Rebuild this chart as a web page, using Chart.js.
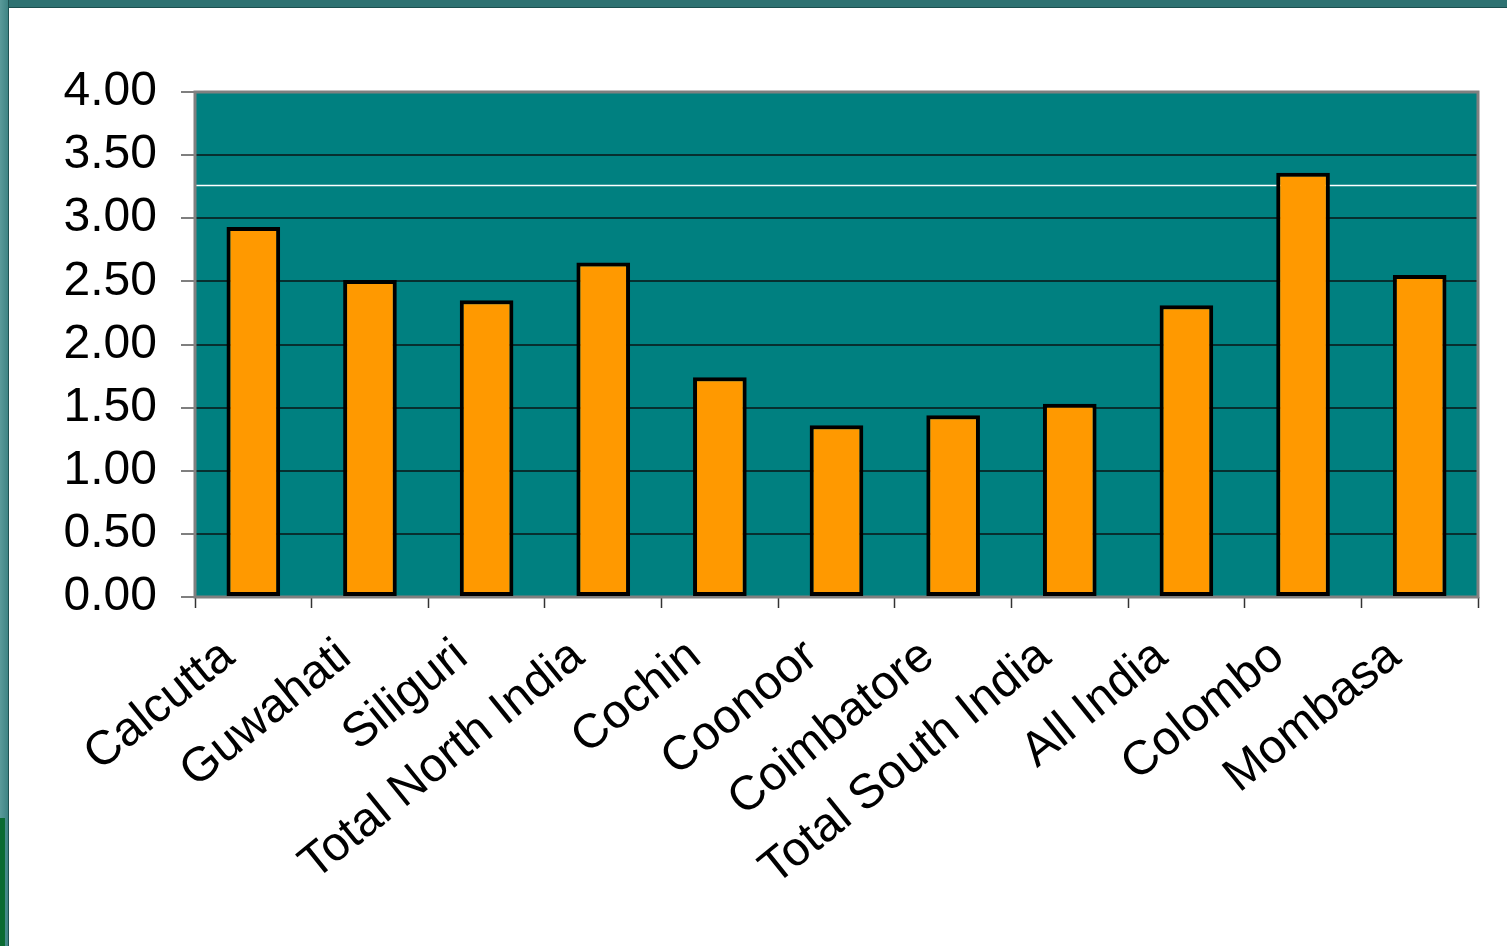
<!DOCTYPE html>
<html>
<head>
<meta charset="utf-8">
<script src="https://cdn.jsdelivr.net/npm/chart.js@4.4.0/dist/chart.umd.min.js"></script>
<style>
    body { margin: 0; width: 1507px; height: 946px; overflow: hidden; background: #fff; position: relative; }
    .frame-top { position: absolute; left: 0; top: 0; width: 1507px; height: 7px; background: #2e7272; border-bottom: 1px solid #1b4f4f; }
    .frame-left { position: absolute; left: 0; top: 0; width: 8px; height: 946px; background: linear-gradient(to right, #5a9a9a, #3e8484); border-right: 1px solid #1e5252; }
    .frame-green { position: absolute; left: 0; top: 818px; width: 5px; height: 128px; background: #0b6b32; }
    .wrap { position: absolute; left: 9px; top: 8px; width: 1498px; height: 938px; }
</style>
</head>
<body>
<div class="frame-top"></div>
<div class="frame-left"></div>
<div class="frame-green"></div>
<div class="wrap"><canvas id="teaChart"></canvas></div>
<script>
    // Dữ liệu
    const categories = ['Calcutta', 'Guwahati', 'Siliguri', 'Total North India', 'Cochin', 'Coonoor',
        'Coimbatore', 'Total South India', 'All India', 'Colombo', 'Mombasa'];
    const values = [2.93, 2.51, 2.35, 2.65, 1.74, 1.36, 1.44, 1.53, 2.31, 3.36, 2.55];
    const yTicks = [0, 0.5, 1, 1.5, 2, 2.5, 3, 3.5, 4];
    const refLine = 3.26;

    const fontFamily = '"Liberation Sans", Arial, sans-serif';

    // Nền xanh và viền xám của vùng vẽ, thêm đường trắng tham chiếu
    const plotArea = {
        id: 'plotArea',
        beforeDraw(chart) {
            const a = chart.chartArea;
            const ctx = chart.ctx;
            ctx.save();
            ctx.fillStyle = '#008080';
            ctx.fillRect(a.left, a.top, a.right - a.left, a.bottom - a.top);
            ctx.restore();
        },
        beforeDatasetsDraw(chart) {
            const a = chart.chartArea;
            const ctx = chart.ctx;
            const y = chart.scales.y.getPixelForValue(refLine);
            ctx.save();
            ctx.strokeStyle = '#ffffff';
            ctx.lineWidth = 1.5;
            ctx.beginPath();
            ctx.moveTo(a.left, y);
            ctx.lineTo(a.right, y);
            ctx.stroke();
            ctx.strokeStyle = '#808080';
            ctx.lineWidth = 3;
            ctx.strokeRect(a.left, a.top, a.right - a.left, a.bottom - a.top);
            ctx.restore();
        }
    };

    function initializeChart() {
        let ctx = document.getElementById('teaChart').getContext('2d');
        new Chart(ctx, {
            type: 'bar',
            data: {
                labels: categories,
                datasets: [{
                    data: values,
                    backgroundColor: '#ff9900',
                    borderColor: '#000000',
                    borderWidth: 4,
                    borderSkipped: false,
                    categoryPercentage: 1,
                    barPercentage: 0.46
                }]
            },
            options: {
                responsive: false,
                animation: false,
                devicePixelRatio: 1,
                layout: { padding: { top: 84, right: 29, left: 0, bottom: 0 } },
                plugins: { legend: { display: false }, tooltip: { enabled: false } },
                scales: {
                    x: {
                        afterFit(scale) { scale.height = 349; },
                        grid: { drawOnChartArea: false, drawTicks: true, tickLength: 11, tickColor: '#333', tickWidth: 1.5 },
                        border: { display: false },
                        ticks: {
                            color: '#000',
                            font: { family: fontFamily, size: 48 },
                            minRotation: 39,
                            maxRotation: 39,
                            autoSkip: false,
                            padding: 20,
                            labelOffset: -25
                        }
                    },
                    y: {
                        min: 0,
                        max: 4,
                        afterFit(scale) { scale.width = 186; },
                        afterBuildTicks(scale) { scale.ticks = yTicks.map(v => ({ value: v })); },
                        grid: { color: '#072f2f', lineWidth: 2, tickLength: 14, tickColor: '#555', tickWidth: 1.5 },
                        border: { display: false },
                        ticks: {
                            color: '#000',
                            font: { family: fontFamily, size: 48 },
                            padding: 24,
                            callback: v => Number(v).toFixed(2)
                        }
                    }
                }
            },
            plugins: [plotArea]
        });
    }

    document.getElementById('teaChart').width = 1498;
    document.getElementById('teaChart').height = 938;
    initializeChart();
</script>
</body>
</html>
